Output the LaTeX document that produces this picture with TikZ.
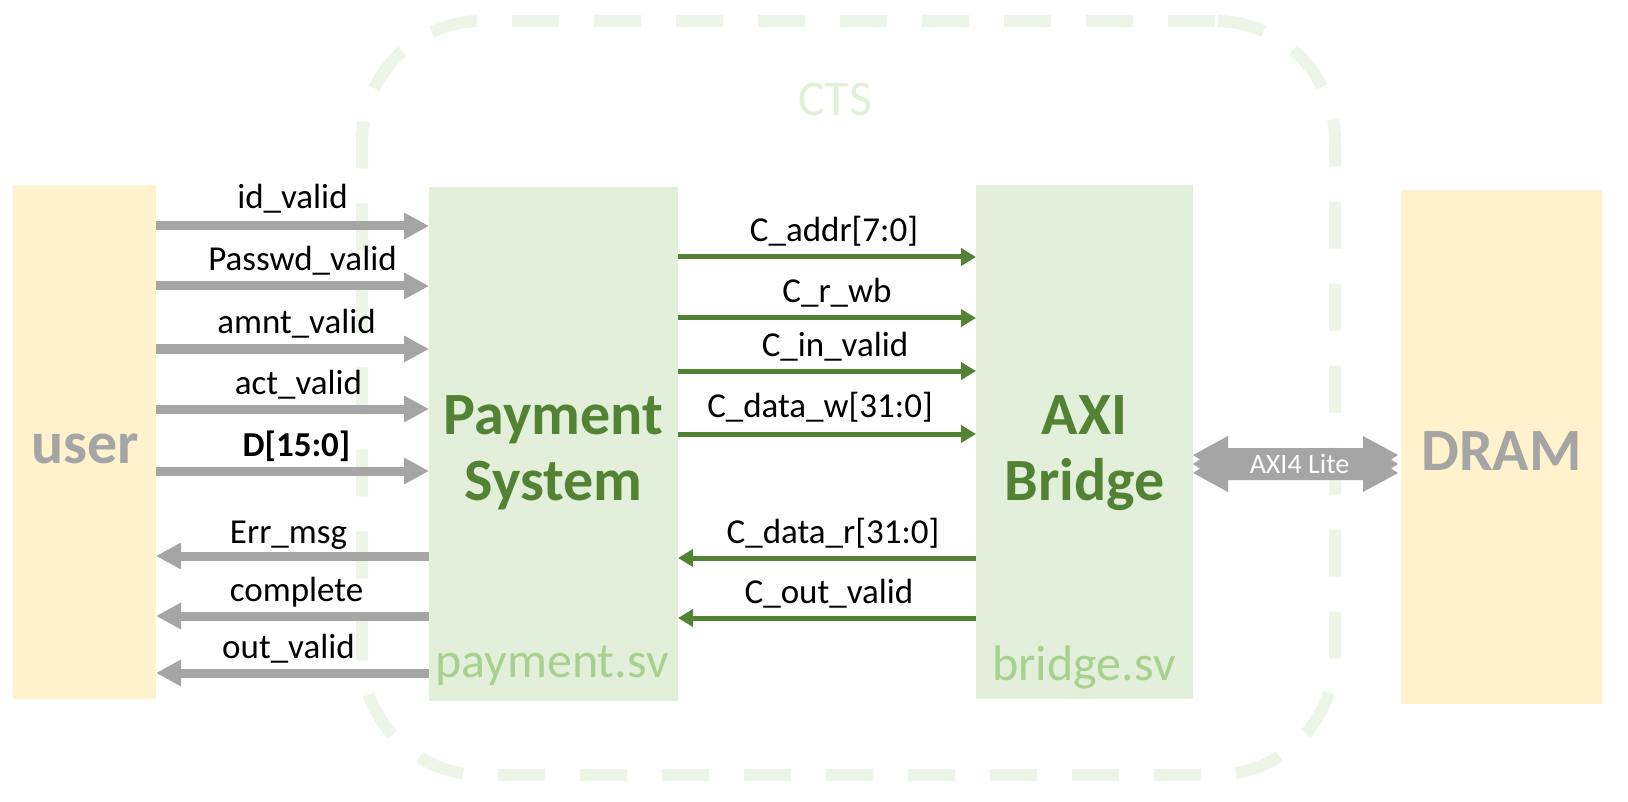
\documentclass[tikz,border=0pt]{standalone}
\usepackage{fontspec}
\setmainfont{Carlito}
\usetikzlibrary{arrows.meta,calc}
\definecolor{ugold}{HTML}{FFF2CC}
\definecolor{lgreen}{HTML}{E2EFDA}
\definecolor{dgreen}{HTML}{548235}
\definecolor{mgreen}{HTML}{A9D18E}
\definecolor{cgreen}{HTML}{EDF5E8}
\definecolor{ctstext}{HTML}{E2F0D9}
\definecolor{agray}{HTML}{A5A5A5}
\begin{document}
\begin{tikzpicture}[x=1pt,y=-1pt,
  blk/.style={rectangle,inner sep=0pt,outer sep=0pt,draw=none},
  ybox/.style={blk,fill=ugold},
  gbox/.style={blk,fill=lgreen},
  ctsbox/.style={rectangle,inner sep=0pt,draw=cgreen,line width=12pt,rounded corners=120pt,
     dash pattern=on 47pt off 35pt,minimum width=973pt,minimum height=754pt},
  garrow/.style={draw=agray,line width=9pt,-{Triangle[length=25pt,width=25pt]}},
  carrow/.style={draw=dgreen,line width=5pt,-{Triangle[length=15pt,width=17pt]}},
  lbl/.style={font=\fontsize{35}{42}\selectfont,text=black,inner sep=0pt,anchor=base,yshift=15pt},
  ttl/.style={font=\bfseries\fontsize{60}{72}\selectfont,text=dgreen,inner sep=0pt,anchor=base},
  gttl/.style={font=\bfseries\fontsize{60}{72}\selectfont,text=agray,inner sep=0pt,anchor=base},
  fname/.style={font=\fontsize{50}{60}\selectfont,text=mgreen,inner sep=0pt,anchor=base},
]
\useasboundingbox (0,0) rectangle (1628,802);
\fill[white] (0,0) rectangle (1628,802);

% CTS container
\node[ctsbox] (cts) at (848.5,398) {};
\node[font=\fontsize{50}{60}\selectfont,text=ctstext,inner sep=0pt,anchor=base] (ctsl) at (835,116) {CTS};

% blocks
\node[ybox,minimum width=143pt,minimum height=514pt] (user) at (84.5,442) {};
\node[gbox,minimum width=249pt,minimum height=514pt] (pay) at (553.5,444) {};
\node[gbox,minimum width=217pt,minimum height=514pt] (axi) at (1084.5,442) {};
\node[ybox,minimum width=201pt,minimum height=514pt] (dram) at (1501.5,447) {};

% block texts
\node[gttl] (usert) at (85,463) {user};
\node[gttl] (dramt) at (1501.5,470) {DRAM};
\node[ttl] (payt1) at (553.5,434) {Payment};
\node[ttl] (payt2) at (553.5,500) {System};
\node[ttl] (axit1) at (1084.5,434) {AXI};
\node[ttl] (axit2) at (1084.5,500) {Bridge};
\node[fname] (payf) at (552,677) {payment.sv};
\node[fname] (axif) at (1084,680) {bridge.sv};

% y levels
\coordinate (r1) at (0,226);
\coordinate (r2) at (0,286);
\coordinate (r3) at (0,349);
\coordinate (r4) at (0,409);
\coordinate (r5) at (0,471);
\coordinate (l1) at (0,556);
\coordinate (l2) at (0,616);
\coordinate (l3) at (0,673);
\coordinate (c1) at (0,257);
\coordinate (c2) at (0,318);
\coordinate (c3) at (0,371);
\coordinate (c4) at (0,434);
\coordinate (c5) at (0,558);
\coordinate (c6) at (0,618);

% user -> payment
\draw[garrow] (user.east |- r1) -- node[lbl,midway,yshift=2pt] (tr1) {id\_valid} (pay.west |- r1);
\draw[garrow] (user.east |- r2) -- node[lbl,midway,xshift=10pt] (tr2) {Passwd\_valid} (pay.west |- r2);
\draw[garrow] (user.east |- r3) -- node[lbl,midway,xshift=4pt] (tr3) {amnt\_valid} (pay.west |- r3);
\draw[garrow] (user.east |- r4) -- node[lbl,midway,xshift=6pt] (tr4) {act\_valid} (pay.west |- r4);
\draw[garrow] (user.east |- r5) -- node[lbl,midway,xshift=4pt,font=\bfseries\fontsize{35}{42}\selectfont] (tr5) {D[15:0]} (pay.west |- r5);

% payment -> user
\draw[garrow] (pay.west |- l1) -- node[lbl,midway,xshift=-4pt,yshift=-2pt] (tl1) {Err\_msg} (user.east |- l1);
\draw[garrow] (pay.west |- l2) -- node[lbl,midway,xshift=4pt] (tl2) {complete} (user.east |- l2);
\draw[garrow] (pay.west |- l3) -- node[lbl,midway,xshift=-4pt] (tl3) {out\_valid} (user.east |- l3);

% payment <-> bridge
\draw[carrow] (pay.east |- c1) -- node[lbl,midway,xshift=7pt] (tc1) {C\_addr[7:0]} (axi.west |- c1);
\draw[carrow] (pay.east |- c2) -- node[lbl,midway,xshift=10pt] (tc2) {C\_r\_wb} (axi.west |- c2);
\draw[carrow] (pay.east |- c3) -- node[lbl,midway,xshift=8pt] (tc3) {C\_in\_valid} (axi.west |- c3);
\draw[carrow] (pay.east |- c4) -- node[lbl,midway,xshift=-7pt,yshift=2pt] (tc4) {C\_data\_w[31:0]} (axi.west |- c4);
\draw[carrow] (axi.west |- c5) -- node[lbl,midway,xshift=6pt] (tc5) {C\_data\_r[31:0]} (pay.east |- c5);
\draw[carrow] (axi.west |- c6) -- node[lbl,midway,xshift=2pt] (tc6) {C\_out\_valid} (pay.east |- c6);

% AXI4 Lite double arrow
\coordinate (am) at (0,464);
\coordinate (aL) at (axi.east |- am);
\coordinate (aR) at ($(dram.west |- am)+(-3,0)$);
\fill[agray] ($(aL)+(35,-16)$) -- ($(aR)+(-35,-16)$) -- ($(aR)+(-35,-28)$)
  -- ($(aR)+(0,-9)$) -- ($(aR)+(-7,-4.5)$) -- ($(aR)+(0,0)$) -- ($(aR)+(-7,4.5)$) -- ($(aR)+(0,9)$)
  -- ($(aR)+(-35,28)$) -- ($(aR)+(-35,16)$) -- ($(aL)+(35,16)$) -- ($(aL)+(35,28)$)
  -- ($(aL)+(0,9)$) -- ($(aL)+(7,4.5)$) -- ($(aL)+(0,0)$) -- ($(aL)+(7,-4.5)$) -- ($(aL)+(0,-9)$)
  -- ($(aL)+(35,-28)$) -- cycle;
\node[font=\fontsize{28}{34}\selectfont,text=white,inner sep=0pt,anchor=base] (axil) at ($($(aL)!0.5!(aR)$)+(4,9)$) {AXI4 Lite};
\end{tikzpicture}
\end{document}
